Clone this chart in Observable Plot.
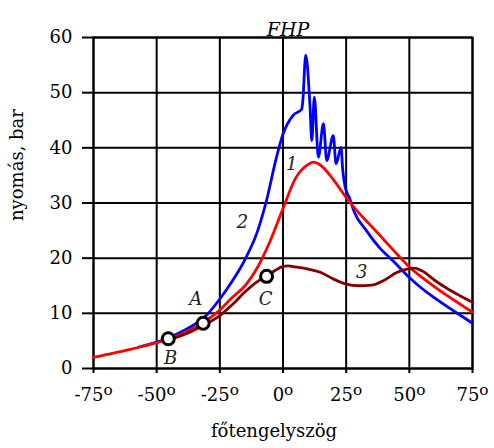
<!DOCTYPE html>
<html>
<head>
<meta charset="utf-8">
<script src="https://cdn.jsdelivr.net/npm/d3@7"></script>
<script src="https://cdn.jsdelivr.net/npm/@observablehq/plot@0.6"></script>
<style>
  html, body { margin: 0; padding: 0; background: white; }
</style>
</head>
<body>
<div id="chart"></div>
<script>
// Curve 1 (red)
const redX = [-75,-70,-65,-60,-55,-50,-45,-40,-35,-30,-25,-20,-15,-10,-5,0,5,10,12,15,20,25,30,35,40,45,50,55,60,65,70,75];
const redY = [2.0,2.5,3.0,3.5,4.1,4.7,5.4,6.3,7.4,8.8,10.6,12.9,15.0,18.4,23.2,29.0,34.5,37.0,37.4,36.8,34.2,31.0,28.2,25.8,23.3,20.8,18.4,16.5,14.8,13.2,11.7,10.2];
// Curve 2 (blue)
const blueX = [-57,-50,-45,-40,-35,-30,-25,-20,-15,-10,-6.5,-3,0,4,7.4,7.8,9,10.7,11.4,12.4,14,16,17.3,19.9,21,23,23.6,24.6,26.5,28,33,38,44,50,55,60,65,70,75];
const blueY = [3.9,4.8,5.6,6.7,8.0,9.8,12.6,15.9,19.8,25.0,30.5,37.5,42.5,45.9,47.0,48.3,56.8,47.4,41.3,49.2,38.3,44.4,37.7,42.2,37.1,40.1,36.2,32.9,30.7,28.6,25.0,22.0,19.3,16.5,14.5,12.8,11.2,9.7,8.2];
// Curve 3 (dark red)
const darkX = [-47,-45,-40,-35,-30,-25,-20,-15,-10,-6.5,-3,0,2,5,10,15,20,25,30,35,40,45,50,52,55,60,65,70,75];
const darkY = [4.8,5.2,6.0,7.0,8.2,9.6,11.6,13.9,15.8,16.7,17.8,18.5,18.6,18.4,18.0,17.4,16.2,15.3,15.0,15.1,16.0,17.4,18.1,18.2,17.7,16.0,14.5,13.2,12.0];
// Marked points A, B, C
const ptNames = ["A","B","C"];
const ptX = [-31.6,-45.4,-6.5];
const ptY = [8.2,5.4,16.7];
// Labels for points (text placement)
const ptLabelX = [-34.5,-44.5,-6.9];
const ptLabelY = [12.6,1.8,12.6];
// Curve number labels
const curveLabels = ["1","2","3"];
const curveLabelX = [3.5,-16,31.2];
const curveLabelY = [37,26.5,17.5];
// Ticks
const xTicks = [-75,-50,-25,0,25,50,75];
const yTicks = [0,10,20,30,40,50,60];
const title = "FHP";
const xLabel = "főtengelyszög";
const yLabel = "nyomás, bar";

const toRows = (xs, ys) => xs.map((x, i) => ({x, y: ys[i]}));
const red = toRows(redX, redY);
const blue = toRows(blueX, blueY);
const dark = toRows(darkX, darkY);
const pts = ptNames.map((n, i) => ({n, x: ptX[i], y: ptY[i]}));
const ptLabels = ptNames.map((n, i) => ({n, x: ptLabelX[i], y: ptLabelY[i]}));
const cLabels = curveLabels.map((n, i) => ({n, x: curveLabelX[i], y: curveLabelY[i]}));

const chart = Plot.plot({
  width: 494,
  height: 448,
  marginLeft: 93,
  marginRight: 22,
  marginTop: 37,
  marginBottom: 80,
  style: {fontFamily: "'DejaVu Serif', serif", fontSize: "18px", color: "black", background: "white"},
  x: {domain: [-75, 75]},
  y: {domain: [0, 60]},
  marks: [
    Plot.gridX(xTicks, {stroke: "black", strokeOpacity: 1, strokeWidth: 2}),
    Plot.gridY(yTicks, {stroke: "black", strokeOpacity: 1, strokeWidth: 2}),
    Plot.axisX({ticks: xTicks, tickSize: 5, tickPadding: 15, tickFormat: d => String(d), label: null, strokeWidth: 2, fontSize: 18}),
    Plot.axisY({ticks: yTicks, tickSize: 11, tickPadding: 10, label: null, strokeWidth: 2, fontSize: 18}),
    Plot.frame({stroke: "black", strokeWidth: 2}),
    Plot.line(blue, {x: "x", y: "y", stroke: "#0000ff", strokeWidth: 2.8, curve: "monotone-x"}),
    Plot.line(red, {x: "x", y: "y", stroke: "#ff0000", strokeWidth: 2.8, curve: "monotone-x"}),
    Plot.line(dark, {x: "x", y: "y", stroke: "#800000", strokeWidth: 2.8, curve: "monotone-x"}),
    Plot.dot(pts, {x: "x", y: "y", r: 6, fill: "white", stroke: "black", strokeWidth: 3}),
    Plot.text(ptLabels, {x: "x", y: "y", text: "n", fontStyle: "italic", fontSize: 18, fill: "#222"}),
    Plot.text(cLabels, {x: "x", y: "y", text: "n", fontStyle: "italic", fontSize: 18, fill: "#222"}),
    Plot.text([title], {frameAnchor: "top", dy: -15, dx: 5, fontStyle: "italic", fontSize: 19}),
    Plot.text([xLabel], {frameAnchor: "bottom", dy: 68, dx: -9, fontSize: 18}),
    Plot.text([yLabel], {frameAnchor: "left", dx: -76, dy: 18, rotate: -90, fontSize: 18})
  ]
});

// Raised "o" degree marks on x tick labels
d3.select(chart).selectAll('g[aria-label="x-axis tick label"] text').each(function() {
  const t = d3.select(this);
  t.append("tspan").attr("dy", "-0.4em").attr("font-size", "0.85em").text("o");
});

document.getElementById("chart").appendChild(chart);
</script>
</body>
</html>
